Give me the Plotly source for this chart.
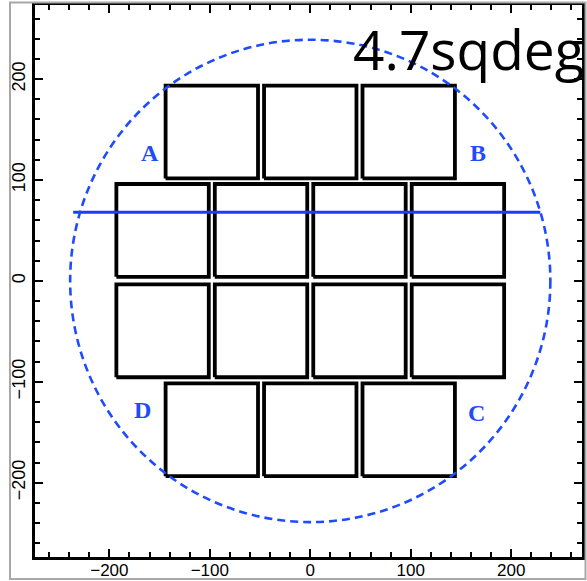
import plotly.graph_objects as go

# Detector layout: box centres (x, y) in arcsec, square box side
box_size = 92
row_y = [147.5, 50, -49.5, -147.5]
row_x = [
    [-98, 0, 98],
    [-147, -49, 49, 147],
    [-147, -49, 49, 147],
    [-98, 0, 98],
]

# Field-of-view circle and the scan line across it
fov_radius = 239
scan_y = 68
scan_x = [-236, 229]

# Quadrant labels
quad_text = ["A", "B", "D", "C"]
quad_x = [-160, 167, -167, 165]
quad_y = [127, 127, -128, -131]

x_ticks = [-200, -100, 0, 100, 200]
y_ticks = [-200, -100, 0, 100, 200]

BLUE = "#1f4bff"

fig = go.Figure()

# detector outlines as one closed-path trace
bx, by = [], []
h = box_size / 2
for yc, xs in zip(row_y, row_x):
    for xc in xs:
        bx += [xc - h, xc + h, xc + h, xc - h, xc - h, None]
        by += [yc - h, yc - h, yc + h, yc + h, yc - h, None]
fig.add_trace(go.Scatter(x=bx, y=by, mode="lines",
                         line=dict(color="black", width=3.8),
                         hoverinfo="skip", showlegend=False))

# horizontal scan line
fig.add_trace(go.Scatter(x=scan_x, y=[scan_y, scan_y], mode="lines",
                         line=dict(color="#1a3cff", width=3),
                         hoverinfo="skip", showlegend=False))

shapes = [
    dict(type="circle", xref="x", yref="y",
         x0=-fov_radius, x1=fov_radius, y0=-fov_radius, y1=fov_radius,
         line=dict(color=BLUE, width=2.6, dash="8px,5px")),
    # outer grey frame
    dict(type="rect", xref="paper", yref="paper",
         x0=-0.0457, x1=1.0064, y0=-0.0399, y1=1.0045,
         line=dict(color="#a8a8a8", width=2), layer="above"),
]

annotations = [
    dict(x=x, y=y, xref="x", yref="y", text=t, showarrow=False,
         font=dict(family="Liberation Serif", size=24, color=BLUE, weight="bold"))
    for t, x, y in zip(quad_text, quad_x, quad_y)
]
annotations.append(
    dict(x=(351 - 35) / 547, y=(557 - 48) / 552, xref="paper", yref="paper",
         text="4.7sqdeg", showarrow=False, xanchor="left", yanchor="middle",
         font=dict(family="Open Sans", size=55, color="black"))
)

axis_common = dict(
    showgrid=False, zeroline=False, automargin=False,
    showline=True, linecolor="black", linewidth=3, mirror="ticks",
    ticks="inside", ticklen=8, tickwidth=2.2, tickcolor="black",
    minor=dict(dtick=20, tick0=0, ticks="inside", ticklen=5, tickwidth=1.6,
               tickcolor="black", showgrid=False),
)

fig.update_layout(
    width=587, height=581,
    margin=dict(l=35, r=5, t=5, b=24),
    paper_bgcolor="white", plot_bgcolor="white",
    xaxis=dict(range=[-274, 270.5], tickvals=x_ticks, ticklabelstandoff=-4,
               tickfont=dict(family="Liberation Sans", size=17, color="black"),
               **axis_common),
    yaxis=dict(range=[-273.6, 273.4], tickvals=y_ticks, tickangle=-90,
               tickfont=dict(family="Liberation Sans", size=18, color="black"),
               **axis_common),
    shapes=shapes, annotations=annotations,
)

fig.write_html("out.html")
